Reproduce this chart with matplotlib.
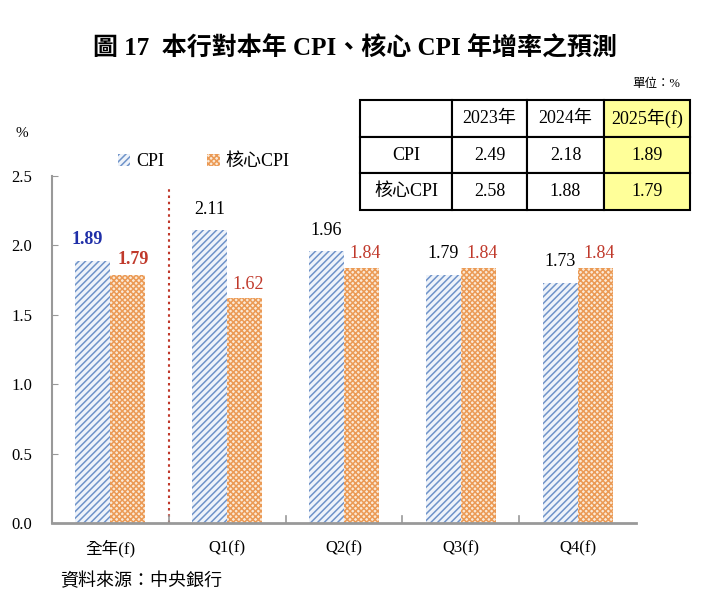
import matplotlib
matplotlib.use("Agg")
import matplotlib.pyplot as plt
import numpy as np

plt.rcParams["font.family"] = ["Liberation Serif", "Noto Sans CJK TC"]

# datos
categorias = ["全年(f)", "Q1(f)", "Q2(f)", "Q3(f)", "Q4(f)"]
cpi = [1.89, 2.11, 1.96, 1.79, 1.73]
core_cpi = [1.79, 1.62, 1.84, 1.84, 1.84]

tabla_cols = ["", "2023年", "2024年", "2025年(f)"]
tabla_filas = ["CPI", "核心CPI"]
tabla_vals = [["2.49", "2.18", "1.89"],
              ["2.58", "1.88", "1.79"]]

azul = "#6f93c9"
naranja = "#eb9a55"
rojo = "#c0392b"

fig = plt.figure(figsize=(7.1, 6.07), dpi=100)
ax = fig.add_axes([0.073, 0.138, 0.823, 0.572])

x = np.arange(len(categorias))
ancho = 0.3
plt.rcParams["hatch.linewidth"] = 1.1
b1 = ax.bar(x - ancho / 2, cpi, width=ancho, facecolor="#eef3fa",
            edgecolor=azul, hatch="/////", linewidth=0, label="CPI")
b2 = ax.bar(x + ancho / 2, core_cpi, width=ancho, facecolor="#fbe9d6",
            edgecolor=naranja, hatch="xxxxxx", linewidth=0, label="核心CPI")

# etiquetas de valor
for i, (v1, v2) in enumerate(zip(cpi, core_cpi)):
    if i == 0:
        ax.text(x[i] - ancho / 2 - 0.05, v1 + 0.09, f"{v1:.2f}", ha="center",
                va="bottom", fontsize=13, color="#1f2fa8", fontweight="bold")
        ax.text(x[i] + ancho / 2 + 0.05, v2 + 0.05, f"{v2:.2f}", ha="center",
                va="bottom", fontsize=13, color=rojo, fontweight="bold")
    else:
        ax.text(x[i] - ancho / 2, v1 + 0.09, f"{v1:.2f}", ha="center",
                va="bottom", fontsize=13, color="black")
        ax.text(x[i] + ancho / 2 + 0.03, v2 + 0.04, f"{v2:.2f}", ha="center",
                va="bottom", fontsize=13, color=rojo)

# línea divisoria punteada
ax.plot([0.5, 0.5], [0, 2.43], color=rojo, linestyle=(0, (1.2, 1.8)),
        linewidth=1.5)

ax.set_xlim(-0.5, len(categorias) - 0.5)
ax.set_ylim(0, 2.5)
ax.set_yticks(np.arange(0, 2.51, 0.5))
ax.set_yticklabels([f"{t:.1f}" for t in np.arange(0, 2.51, 0.5)], fontsize=12)
ax.set_xticks(x)
ax.set_xticklabels(categorias, fontsize=12)
ax.tick_params(axis="x", length=0, pad=12)
ax.tick_params(axis="y", direction="in", length=4, color="#999999", pad=14)
for sep in np.arange(0.5, len(categorias) - 0.5, 1.0):
    ax.plot([sep, sep], [0, 0.05], color="#999999", linewidth=1.2)
for s in ["top", "right"]:
    ax.spines[s].set_visible(False)
ax.spines["left"].set_color("#999999")
ax.spines["bottom"].set_color("#999999")
ax.spines["left"].set_linewidth(1.5)
ax.spines["bottom"].set_linewidth(2.0)

ax.legend(loc="lower left", bbox_to_anchor=(0.085, 0.97), ncol=2, frameon=False,
          fontsize=13, handlelength=0.7, handleheight=0.7, handletextpad=0.3,
          columnspacing=2.4)

fig.text(0.022, 0.775, "%", fontsize=11)

# título
fig.text(0.5, 0.92, "圖 17  本行對本年 CPI、核心 CPI 年增率之預測",
         ha="center", va="center", fontsize=18, fontweight="bold")
fig.text(0.958, 0.862, "單位：%", ha="right", va="center", fontsize=9)
fig.text(0.085, 0.042, "資料來源：中央銀行", ha="left", va="center", fontsize=13)

# tabla
tax = fig.add_axes([0.507, 0.654, 0.465, 0.181])
tax.axis("off")
celdas = [tabla_cols] + [[f] + vals for f, vals in zip(tabla_filas, tabla_vals)]
tabla = tax.table(cellText=celdas, bbox=[0, 0, 1, 1], cellLoc="center",
                  colWidths=[0.28, 0.225, 0.235, 0.26])
tabla.auto_set_font_size(False)
for (r, c), celda in tabla.get_celld().items():
    celda.set_linewidth(1.5)
    celda.get_text().set_fontsize(13)
    if c == 3:
        celda.set_facecolor("#ffff99")

fig.savefig("out.png", dpi=100)
